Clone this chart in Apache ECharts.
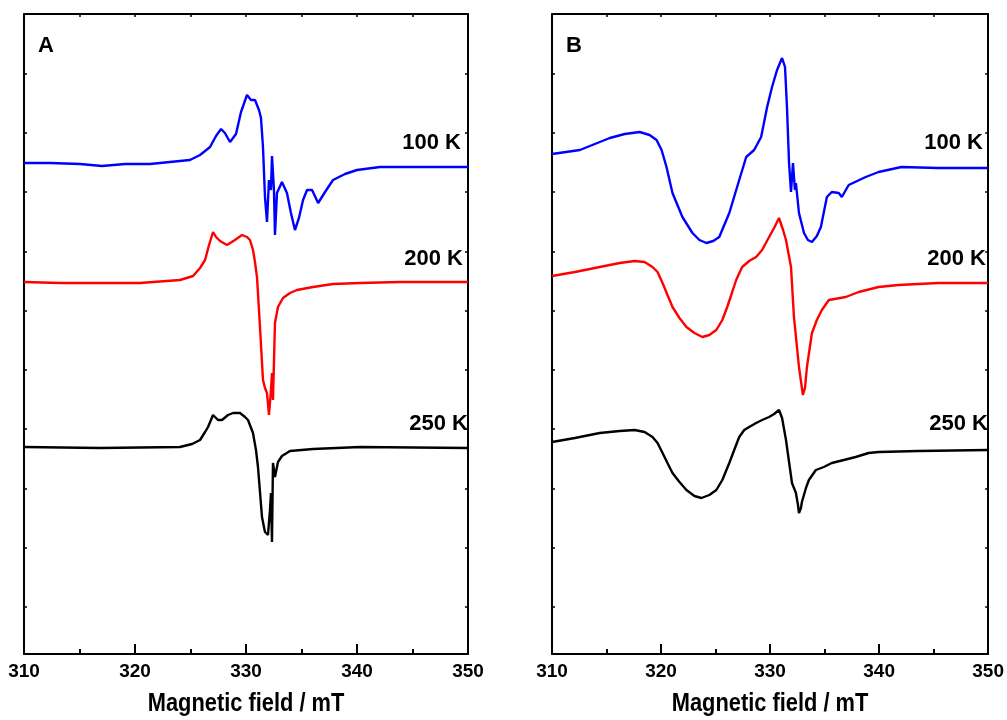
<!DOCTYPE html>
<html>
<head>
<meta charset="utf-8">
<script src="https://cdn.jsdelivr.net/npm/echarts@6/dist/echarts.min.js"></script>
<style>
  html, body { margin: 0; padding: 0; background: #fff; }
  #chart { width: 1007px; height: 720px; }
</style>
</head>
<body>
<div id="chart"></div>
<script>
// EPR spectra, field axis in mT; intensities in arbitrary units relative to each trace's baseline
const fieldTicks = [310, 320, 330, 340, 350];
const tempLabels = ['100 K', '200 K', '250 K'];
const panelLabels = ['A', 'B'];
const axisTitle = 'Magnetic field / mT';
const baseOffsetsA = [487, 372, 206];
const baseOffsetsB = [486, 371, 204];

// Panel A
const fieldA100 = [310, 312.34, 315.05, 317.03, 319.1, 321.35, 323.15, 324.95, 325.86, 326.76, 327.3, 327.75, 328.1, 328.56, 329.1, 329.55, 330.09, 330.45, 330.81, 331.17, 331.35, 331.53, 331.71, 331.89, 332.07, 332.25, 332.34, 332.52, 332.61, 332.79, 333.24, 333.69, 334.05, 334.41, 334.77, 335.14, 335.5, 335.95, 336.5, 337.12, 337.84, 338.92, 340.0, 342.07, 345.68, 350];
const sigA100 = [4, 4, 3, 1, 3, 3, 5, 7, 12, 20, 31, 38, 34, 25, 33, 55, 72, 67, 67, 57, 49, 20, -30, -55, -13, -23, 11, -23, -68, -26, -15, -26, -46, -63, -51, -33, -23, -23, -36, -25, -13, -7, -3, 0, 0, 0];

const fieldA200 = [310, 313.24, 316.85, 320.45, 324.05, 325.23, 325.86, 326.31, 326.67, 327.03, 327.3, 327.66, 328.29, 329.0, 329.64, 330.09, 330.36, 330.63, 330.81, 330.99, 331.26, 331.53, 331.71, 331.89, 332.07, 332.25, 332.34, 332.43, 332.61, 332.88, 333.33, 333.96, 334.59, 336.04, 337.84, 340.27, 343.87, 350];
const sigA200 = [0, -1, -1, -1, 2, 6, 14, 22, 37, 50, 45, 41, 37, 42, 47, 45, 42, 32, 20, 5, -45, -98, -106, -111, -133, -108, -91, -118, -41, -25, -16, -11, -8, -5, -2, -1, 0, 0];

const fieldA250 = [310, 316.85, 324.05, 325.14, 325.86, 326.31, 326.58, 327.03, 327.48, 327.84, 328.38, 328.83, 329.46, 329.91, 330.18, 330.63, 330.9, 331.08, 331.44, 331.71, 331.98, 332.16, 332.25, 332.34, 332.43, 332.61, 332.88, 333.24, 333.96, 336.04, 340.27, 350];
const sigA250 = [1, 0, 1, 4, 8, 16, 21, 33, 28, 28, 33, 35, 35, 31, 28, 15, -2, -19, -69, -84, -87, -62, -45, -94, -15, -29, -14, -8, -3, -1, 1, 0];

// Panel B
const fieldB100 = [310, 312.56, 315.3, 316.67, 318.04, 318.95, 319.59, 320.05, 320.5, 321.05, 321.96, 322.88, 323.52, 324.16, 324.79, 325.34, 326.26, 327.17, 327.81, 328.54, 329.18, 329.73, 330.18, 330.64, 331.1, 331.37, 331.55, 331.74, 331.92, 332.1, 332.28, 332.37, 332.65, 333.11, 333.47, 333.84, 334.29, 334.66, 335.21, 335.66, 336.3, 336.58, 337.21, 338.77, 339.95, 342.05, 345.43, 350];
const sigB100 = [14, 18, 30, 34, 36, 33, 28, 18, 1, -25, -49, -65, -72, -75, -73, -69, -45, -12, 11, 18, 31, 61, 81, 98, 110, 101, 61, 5, -24, 5, -22, -15, -45, -65, -72, -74, -68, -59, -29, -24, -25, -29, -17, -9, -4, 1, 0, 0];

const fieldB200 = [310, 312.1, 314.38, 316.21, 317.58, 318.49, 319.22, 319.68, 320.14, 320.59, 321.05, 321.69, 322.33, 323.06, 323.79, 324.43, 325.07, 325.62, 326.07, 326.53, 326.89, 327.44, 328.08, 328.72, 329.27, 329.91, 330.37, 330.82, 331.19, 331.46, 331.92, 332.19, 332.65, 333.01, 333.2, 333.38, 333.84, 334.29, 334.75, 335.39, 336.94, 338.13, 339.95, 341.78, 345.43, 350];
const sigB200 = [7, 11, 16, 20, 22, 21, 16, 11, 0, -12, -24, -35, -44, -50, -54, -52, -47, -37, -24, -9, 3, 16, 22, 26, 33, 46, 55, 65, 53, 43, 16, -34, -84, -112, -105, -84, -50, -37, -27, -17, -14, -9, -4, -2, 0, 0];

const fieldB250 = [310, 312.1, 314.38, 316.21, 317.58, 318.49, 319.22, 319.68, 320.14, 320.59, 321.05, 321.69, 322.33, 323.06, 323.7, 324.43, 325.07, 325.62, 326.26, 326.71, 327.17, 327.63, 328.08, 328.72, 329.27, 329.91, 330.37, 330.82, 331.1, 331.46, 331.74, 332.01, 332.37, 332.56, 332.65, 332.83, 332.92, 333.29, 333.56, 334.2, 334.93, 335.66, 336.76, 337.85, 339.04, 339.95, 343.61, 350];
const sigB250 = [8, 12, 17, 19, 20, 18, 13, 7, -3, -13, -23, -32, -40, -46, -48, -45, -40, -30, -13, 0, 13, 20, 23, 27, 30, 33, 36, 40, 32, 10, -12, -33, -43, -55, -63, -58, -52, -38, -30, -20, -17, -13, -10, -7, -3, -2, -1, 0];

const traceColors = ['#0000ff', '#ff0000', '#000000'];

const FONT = "'Liberation Sans', Arial, sans-serif";

// y-axis spans 0..640 arbitrary units; tick marks every 59.26 units starting at 47
const Y_MAX = 640;
const yTickValues = [];
for (let i = 0; i < 10; i++) yTickValues.push(+(47 + 59.26 * i).toFixed(2));

function toPoints(field, sig, offset) {
  return field.map((b, i) => [b, offset + sig[i]]);
}

const panels = [
  { left: 24, right: 539, titleX: 246, letterX: 38, tempRight: [461, 463, 468],
    traces: [[fieldA100, sigA100], [fieldA200, sigA200], [fieldA250, sigA250]], offsets: baseOffsetsA },
  { left: 552, right: 17, titleX: 770, letterX: 566, tempRight: [983, 986, 988],
    traces: [[fieldB100, sigB100], [fieldB200, sigB200], [fieldB250, sigB250]], offsets: baseOffsetsB }
];

const axisLine = { show: true, onZero: false, lineStyle: { color: '#000', width: 2 } };

const grid = [], xAxis = [], yAxis = [], series = [], graphic = [];
const labelStyle = { fontFamily: FONT, fontWeight: 'bold', fontSize: 22, fill: '#000' };
const tempYs = [143, 259, 424];

panels.forEach((p, pi) => {
  grid.push({ left: p.left, right: p.right, top: 14, bottom: 66, containLabel: false });
  // bottom field axis
  xAxis.push({
    type: 'value', gridIndex: pi, position: 'bottom', min: 310, max: 350, interval: 10,
    axisLine,
    axisTick: { show: true, inside: true, length: 10, lineStyle: { color: '#000', width: 2 } },
    minorTick: { show: true, splitNumber: 2, length: 5, lineStyle: { color: '#000', width: 2 } },
    axisLabel: {
      show: true, margin: 8, fontFamily: FONT, fontWeight: 'bold', fontSize: 19, color: '#000',
      showMinLabel: true, showMaxLabel: true,
      customValues: fieldTicks
    },
    splitLine: { show: false }
  });
  // top frame axis
  xAxis.push({
    type: 'value', gridIndex: pi, position: 'top', min: 310, max: 350, interval: 5,
    axisLine,
    axisTick: { show: true, inside: true, length: 3, lineStyle: { color: '#000', width: 1.5 } },
    axisLabel: { show: false },
    splitLine: { show: false }
  });
  // left and right frame axes
  ['left', 'right'].forEach(pos => {
    yAxis.push({
      type: 'value', gridIndex: pi, position: pos, min: 0, max: Y_MAX,
      axisLine,
      axisTick: { show: true, inside: true, length: 3, customValues: yTickValues, lineStyle: { color: '#000', width: 1.5 } },
      axisLabel: { show: false },
      splitLine: { show: false }
    });
  });
  p.traces.forEach((t, ti) => {
    series.push({
      type: 'line', name: tempLabels[ti],
      xAxisIndex: pi * 2, yAxisIndex: pi * 2,
      data: toPoints(t[0], t[1], p.offsets[ti]),
      showSymbol: false, smooth: false, animation: false,
      lineStyle: { color: traceColors[ti], width: 2.4 },
      itemStyle: { color: traceColors[ti] }
    });
  });

  // condensed bold axis title under each panel (scaled about its own anchor)
  graphic.push({
    type: 'text', x: p.titleX, y: 704, scaleX: 0.84, originX: 0, originY: 0,
    style: { text: axisTitle, fontFamily: FONT, fontWeight: 'bold', fontSize: 26, fill: '#000', align: 'center', verticalAlign: 'middle' }
  });
  // panel letter
  graphic.push({ type: 'text', left: p.letterX, top: 35, style: Object.assign({ text: panelLabels[pi] }, labelStyle) });
  // temperature labels
  tempLabels.forEach((txt, i) => {
    graphic.push({ type: 'text', x: p.tempRight[i], y: tempYs[i], style: Object.assign({ text: txt, align: 'right', verticalAlign: 'middle' }, labelStyle) });
  });
});

const chart = echarts.init(document.getElementById('chart'), null, { renderer: 'canvas' });
chart.setOption({
  backgroundColor: '#fff',
  animation: false,
  grid, xAxis, yAxis, series, graphic
});
</script>
</body>
</html>
